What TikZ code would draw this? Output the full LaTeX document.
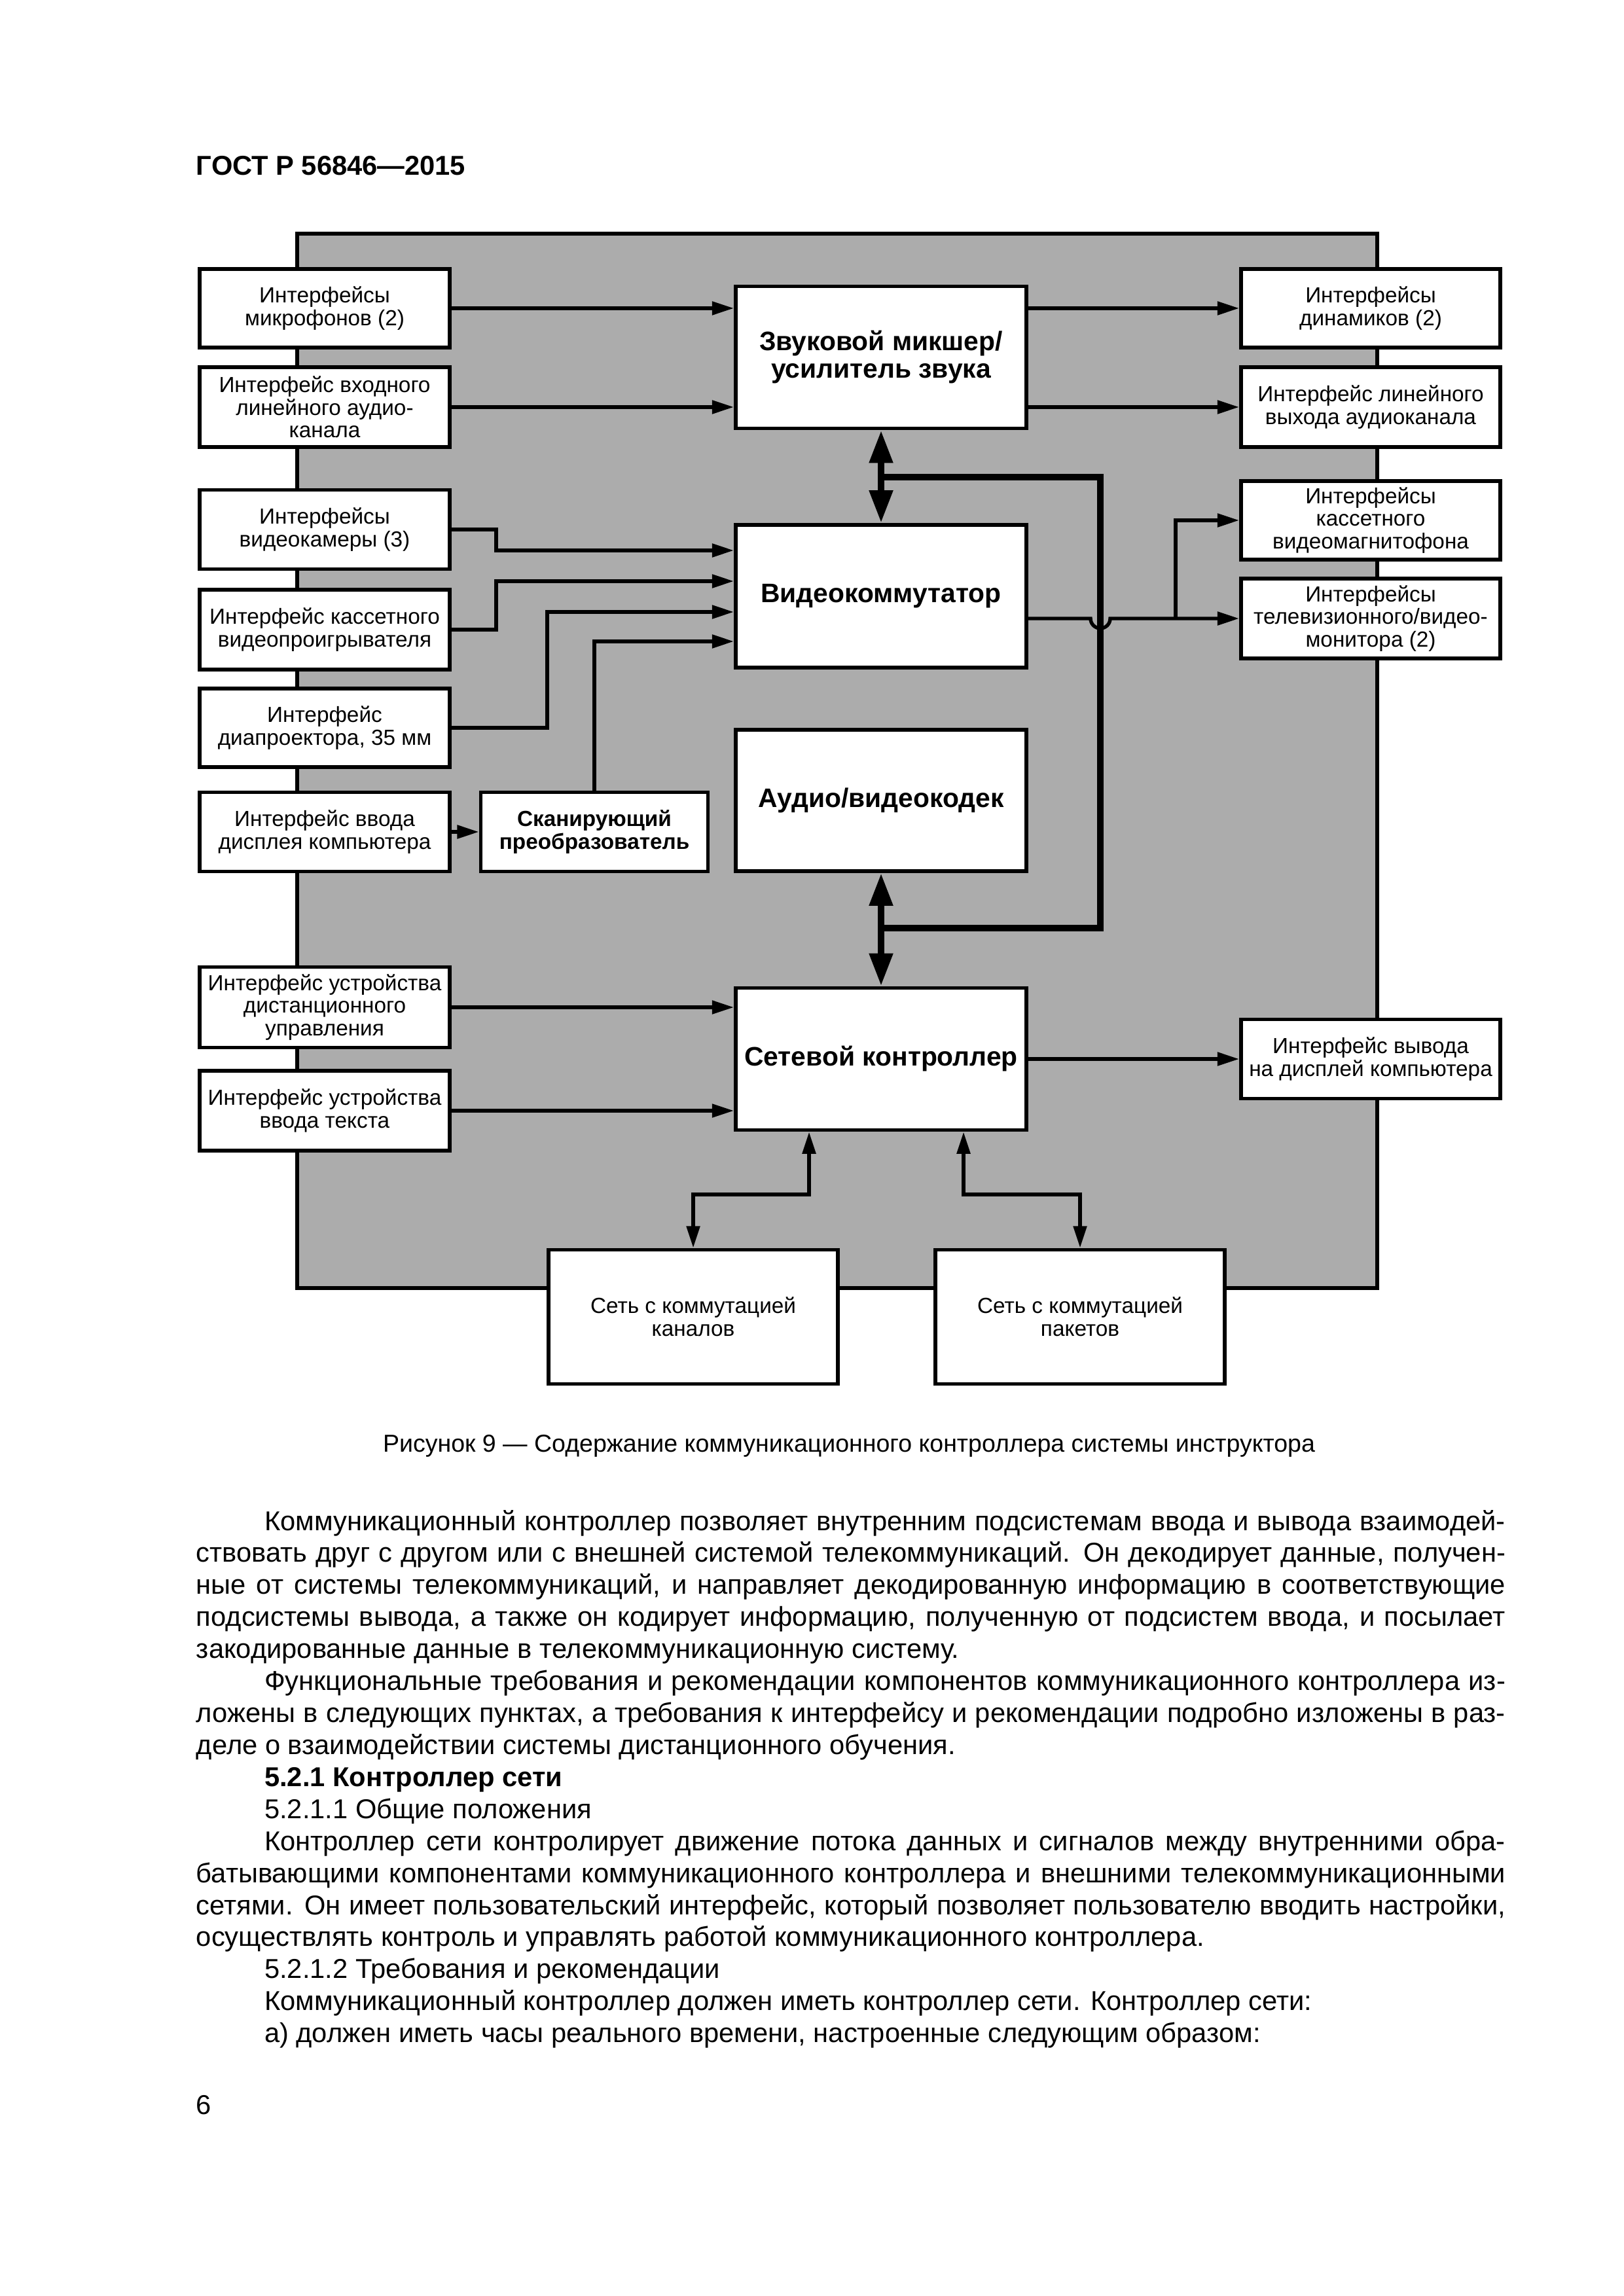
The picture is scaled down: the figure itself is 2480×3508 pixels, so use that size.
\documentclass[tikz,border=0pt]{standalone}
\usepackage{fontspec}
\setmainfont{Liberation Sans}
\usetikzlibrary{arrows.meta}

\definecolor{panelgray}{RGB}{172,172,172}

\tikzset{every picture/.style={line width=1.4pt}}
\tikzset{
  blk/.style 2 args={draw, fill=white, line width=1.4pt, inner sep=0pt, align=center,
    minimum width=#1*0.24pt, minimum height=#2*0.24pt, font=\fontsize{8}{8.3}\selectfont},
  bigblk/.style 2 args={blk={#1}{#2}, font=\bfseries\fontsize{9.8}{10.1}\selectfont},
  scanblk/.style 2 args={blk={#1}{#2}, font=\bfseries\fontsize{8}{8.4}\selectfont},
  link/.style={line width=1.3pt, -{Triangle[length=8pt,width=4.8pt]}},
  dlink/.style={line width=1.3pt, {Triangle[length=8pt,width=4.8pt]}-{Triangle[length=8pt,width=4.8pt]}},
  bus/.style={line width=2.5pt},
  dbus/.style={line width=2.5pt, {Triangle[length=12pt,width=8.2pt]}-{Triangle[length=12pt,width=8.2pt]}},
}

\newcommand{\bodyline}[1]{\makebox[\linewidth][s]{#1}\par}
\newcommand{\bodyend}[1]{\makebox[\linewidth][l]{#1}\par}
\newcommand{\ind}{\hspace*{25pt}}

\begin{document}
\begin{tikzpicture}[x=0.24pt,y=0.24pt,yscale=-1,xscale=1]
\useasboundingbox (0,0) rectangle (2480,3508);

% Text Node
\node[anchor=base west, inner sep=0pt, font=\bfseries\fontsize{10}{12}\selectfont] (hdr) at (297,268) {ГОСТ Р 56846—2015};

%Shape: Rectangle
\draw[fill=panelgray] (454,357) rectangle (2104,1968);

% left column
\node[blk={382}{120}] (mic) at (496,471) {Интерфейсы\\микрофонов (2)};
\node[blk={382}{122}] (linein) at (496,622) {Интерфейс входного\\линейного аудио-\\канала};
\node[blk={382}{121}] (cam) at (496,809) {Интерфейсы\\видеокамеры (3)};
\node[blk={382}{122}] (vcp) at (496,962) {Интерфейс кассетного\\видеопроигрывателя};
\node[blk={382}{120}] (slide) at (496,1112) {Интерфейс\\диапроектора, 35 мм};
\node[blk={382}{121}] (dispin) at (496,1271) {Интерфейс ввода\\дисплея компьютера};
\node[blk={382}{123}] (remote) at (496,1539) {Интерфейс устройства\\дистанционного\\управления};
\node[blk={382}{122}] (textin) at (496,1697) {Интерфейс устройства\\ввода текста};
\node[scanblk={347}{121}] (scan) at (908,1271) {Сканирующий\\преобразователь};

% middle column
\node[bigblk={444}{217}] (mixer) at (1346,546) {Звуковой микшер/\\усилитель звука};
\node[bigblk={444}{218}] (vswitch) at (1346,911) {Видеокоммутатор};
\node[bigblk={444}{216}] (codec) at (1346,1223) {Аудио/видеокодек};
\node[bigblk={444}{217}] (netctl) at (1346,1618) {Сетевой контроллер};

% right column
\node[blk={396}{120}] (spk) at (2094,471) {Интерфейсы\\динамиков (2)};
\node[blk={396}{122}] (lineout) at (2094,622) {Интерфейс линейного\\выхода аудиоканала};
\node[blk={396}{120}] (vcr) at (2094,795) {Интерфейсы\\кассетного\\видеомагнитофона};
\node[blk={396}{122}] (tv) at (2094,945) {Интерфейсы\\телевизионного/видео-\\монитора (2)};
\node[blk={396}{121}] (dispout) at (2094,1618) {Интерфейс вывода\\на дисплей компьютера};

% networks
\node[blk={442}{205}] (circ) at (1059,2012) {Сеть с коммутацией\\каналов};
\node[blk={442}{205}] (pkt) at (1650,2012) {Сеть с коммутацией\\пакетов};

%Straight Lines
\draw[link] (mic) -- (mic -| mixer.west);
\draw[link] (linein) -- (linein -| mixer.west);
\draw[link] (mixer.east |- mic) -- (spk);
\draw[link] (mixer.east |- linein) -- (lineout);
\draw[link] (cam) -| (758,841) -- (vswitch.west |- 0,841);
\draw[link] (vcp) -| (758,888) -- (vswitch.west |- 0,888);
\draw[link] (slide) -| (836,935) -- (vswitch.west |- 0,935);
\draw[link] (scan) |- (vswitch.west |- 0,980);
\draw[link] (dispin) -- (scan);

% bus
\draw[dbus] (mixer) -- (vswitch);
\draw[dbus] (codec) -- (netctl);
\draw[bus] (1346,729) -| (1681,1418) -- (1346,1418);

% video out with hop
\draw[link] (vswitch.east |- 0,945) -- (1666,945) arc[start angle=180, end angle=0, radius=15] -- (tv);
\draw[link] (1796,945) |- (vcr);

\draw[link] (remote) -- (remote -| netctl.west);
\draw[link] (textin) -- (textin -| netctl.west);
\draw[link] (netctl) -- (dispout);
\draw[dlink] (netctl.south -| 1236,0) |- (1059,1825) -- (circ.north);
\draw[dlink] (netctl.south -| 1472,0) |- (1650,1825) -- (pkt.north);

% Text Node
\node[anchor=base, inner sep=0pt, font=\fontsize{9}{11}\selectfont] (cap) at (1297,2218) {Рисунок 9 — Содержание коммуникационного контроллера системы инструктора};

% Text Node
\node[anchor=base west, inner sep=0pt, font=\fontsize{10}{11.74}\selectfont] (body) at (297,2338) {\parbox[t]{480pt}{%
\bodyline{\ind Коммуникационный контроллер позволяет внутренним подсистемам ввода и вывода взаимодей-}
\bodyline{ствовать друг с другом или с внешней системой телекоммуникаций. Он декодирует данные, получен-}
\bodyline{ные от системы телекоммуникаций, и направляет декодированную информацию в соответствующие}
\bodyline{подсистемы вывода, а также он кодирует информацию, полученную от подсистем ввода, и посылает}
\bodyend{закодированные данные в телекоммуникационную систему.}
\bodyline{\ind Функциональные требования и рекомендации компонентов коммуникационного контроллера из-}
\bodyline{ложены в следующих пунктах, а требования к интерфейсу и рекомендации подробно изложены в раз-}
\bodyend{деле о взаимодействии системы дистанционного обучения.}
\bodyend{\ind\textbf{5.2.1 Контроллер сети}}
\bodyend{\ind 5.2.1.1 Общие положения}
\bodyline{\ind Контроллер сети контролирует движение потока данных и сигналов между внутренними обра-}
\bodyline{батывающими компонентами коммуникационного контроллера и внешними телекоммуникационными}
\bodyline{сетями. Он имеет пользовательский интерфейс, который позволяет пользователю вводить настройки,}
\bodyend{осуществлять контроль и управлять работой коммуникационного контроллера.}
\bodyend{\ind 5.2.1.2 Требования и рекомендации}
\bodyend{\ind Коммуникационный контроллер должен иметь контроллер сети. Контроллер сети:}
\bodyend{\ind а) должен иметь часы реального времени, настроенные следующим образом:}}};

% Text Node
\node[anchor=base west, inner sep=0pt, font=\fontsize{10}{12}\selectfont] (pg) at (297,3230) {6};
\end{tikzpicture}
\end{document}
